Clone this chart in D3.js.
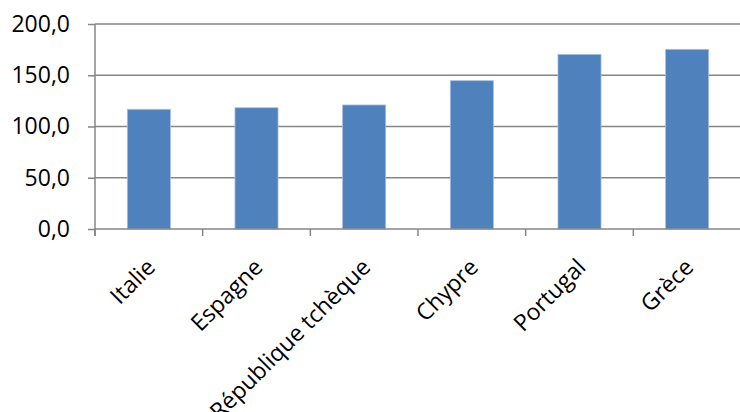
<!DOCTYPE html>
<html>
<head>
<meta charset="utf-8">
<script src="https://cdn.jsdelivr.net/npm/d3@7/dist/d3.min.js"></script>
<style>
  html, body { margin: 0; padding: 0; background: #fff; }
  svg { display: block; }
  text { font-family: "Open Sans", "Liberation Sans", sans-serif; fill: #000; }
</style>
</head>
<body>
<svg id="chart" width="740" height="412"></svg>
<script>
// Categories and their values
const categories = ["Italie", "Espagne", "République tchèque", "Chypre", "Portugal", "Grèce"];
const values = [116.8, 118.3, 121.0, 144.7, 170.4, 175.3];
const yTicks = [0, 50, 100, 150, 200];

const svg = d3.select("#chart");
const margin = { left: 95, right: -1, top: 24, bottom: 183 };
const width = 740 - margin.left - margin.right;
const height = 412 - margin.top - margin.bottom;

const g = svg.append("g").attr("transform", `translate(${margin.left},${margin.top})`);

const x = d3.scaleBand().domain(categories).range([0, width]).paddingInner(0.6).paddingOuter(0.3);
const y = d3.scaleLinear().domain([0, 200]).range([height, 0]);

const fmt = v => d3.format(".1f")(v).replace(".", ",");

// Horizontal gridlines
g.append("g").selectAll("line").data(yTicks.filter(t => t > 0)).join("line")
  .attr("x1", 0).attr("x2", width)
  .attr("y1", d => y(d)).attr("y2", d => y(d))
  .attr("stroke", "#868686").attr("stroke-width", 1.5);

// Bars
g.append("g").selectAll("rect").data(values).join("rect")
  .attr("x", (d, i) => x(categories[i]))
  .attr("y", d => y(d))
  .attr("width", x.bandwidth())
  .attr("height", d => y(0) - y(d))
  .attr("fill", "#4F81BD")
  .attr("stroke", "#A7C0DE").attr("stroke-width", 0.8);

// Y axis
const yAxis = g.append("g").call(
  d3.axisLeft(y).tickValues(yTicks).tickFormat(fmt).tickSize(7).tickPadding(18)
);
yAxis.select(".domain").attr("stroke", "#868686").attr("stroke-width", 1.5).attr("d", `M0,${height + 7}V0`);
yAxis.selectAll(".tick line").attr("stroke", "#868686").attr("stroke-width", 1.5);
yAxis.selectAll(".tick text").style("font-size", "23px").attr("fill", "#000");

// X axis with ticks at category boundaries
const bounds = d3.range(categories.length + 1).map(i => i * x.step());
const xAxisG = g.append("g").attr("transform", `translate(0,${height})`);
xAxisG.append("line").attr("x1", 0).attr("x2", width).attr("stroke", "#868686").attr("stroke-width", 1.5);
xAxisG.selectAll("line.tk").data(bounds).join("line").attr("class", "tk")
  .attr("x1", d => d).attr("x2", d => d).attr("y1", 0).attr("y2", 7)
  .attr("stroke", "#868686").attr("stroke-width", 1.5);

// Rotated category labels
xAxisG.selectAll("text").data(categories).join("text")
  .attr("transform", d => `translate(${x(d) + x.bandwidth() / 2 + 2},${34}) rotate(-45)`)
  .attr("text-anchor", "end")
  .attr("dy", "0.35em")
  .style("font-size", "23px")
  .text(d => d);
</script>
</body>
</html>
